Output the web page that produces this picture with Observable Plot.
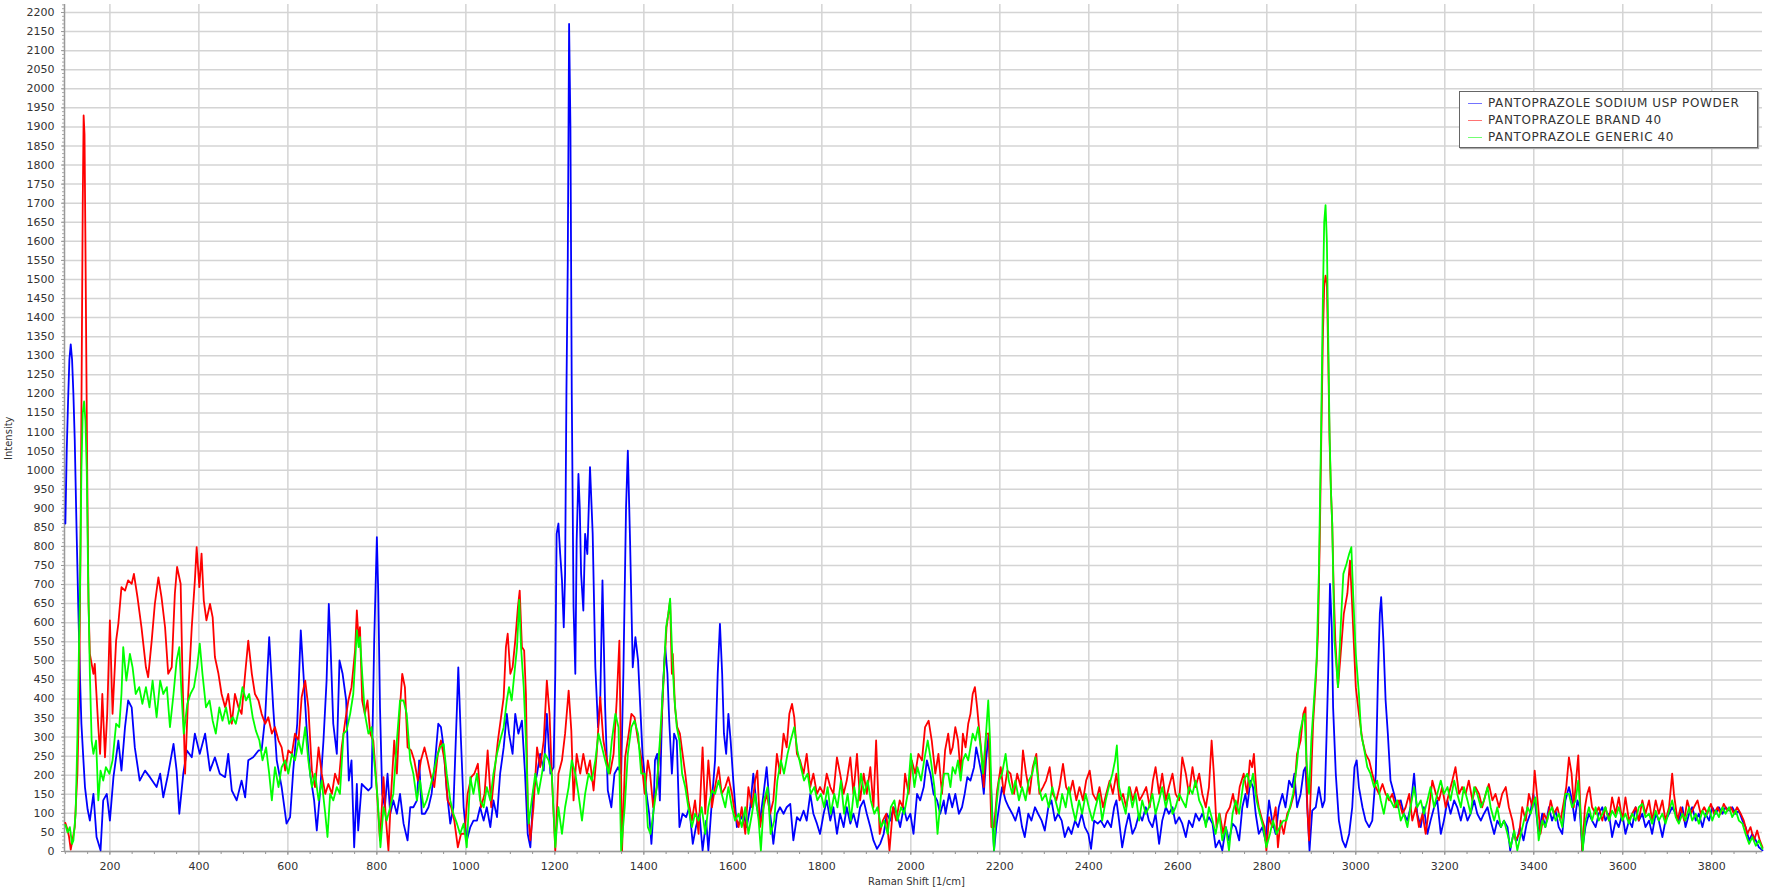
<!DOCTYPE html>
<html><head><meta charset="utf-8">
<script src="https://cdn.jsdelivr.net/npm/d3@7"></script>
<script src="https://cdn.jsdelivr.net/npm/@observablehq/plot@0.6"></script>
<style>
body{margin:0;background:#fff;}
#wrap{position:relative;width:1767px;height:893px;overflow:hidden;}
#legend{position:absolute;left:1459px;top:91px;width:299px;height:57px;border:1px solid #666;background:#fff;box-shadow:1px 1px 1px #aaa;box-sizing:border-box;font:12px "DejaVu Sans",sans-serif;letter-spacing:0.6px;color:#333;}
#legend .row{position:absolute;left:0;height:14px;line-height:14px;white-space:nowrap;}
#legend .sw{position:absolute;left:8px;top:7px;width:14px;height:0;border-top:1.5px solid;opacity:.55}
#legend .lb{position:absolute;left:28px;top:0}
</style></head>
<body><div id="wrap"><div id="legend"></div></div>
<script>
const seriesNames = ["PANTOPRAZOLE SODIUM USP POWDER", "PANTOPRAZOLE BRAND 40", "PANTOPRAZOLE GENERIC 40"];
const seriesColors = ["#0000ff", "#ff0000", "#00ff00"];
const xTicks = [200,400,600,800,1000,1200,1400,1600,1800,2000,2200,2400,2600,2800,3000,3200,3400,3600,3800];
const yTicks = d3.range(0, 2201, 50);

const usp = [[100,860],[103,1050],[106,1180],[109,1290],[112,1330],[115,1290],[118,1200],[121,1080],[125,850],[129,640],[133,450],[136,335],[140,250],[144,169],[150,110],[155,81],[163,151],[170,38],[179,3],[185,134],[193,151],[200,81],[208,195],[219,291],[226,212],[234,326],[241,396],[249,378],[256,273],[267,186],[279,212],[290,195],[305,169],[313,204],[320,142],[331,204],[343,282],[350,212],[356,99],[365,204],[373,265],[384,247],[391,309],[402,256],[414,309],[425,212],[436,247],[447,204],[459,195],[466,256],[474,160],[485,134],[496,186],[504,142],[511,239],[522,247],[534,265],[541,265],[549,352],[558,562],[567,378],[575,239],[586,169],[597,73],[605,90],[612,212],[621,335],[629,580],[635,466],[642,326],[650,204],[659,134],[665,55],[672,151],[680,291],[687,448],[692,649],[696,536],[702,335],[710,256],[716,501],[723,466],[731,396],[737,186],[743,239],[749,11],[755,177],[758,55],[766,177],[773,169],[781,160],[788,169],[794,553],[800,824],[803,684],[807,378],[812,151],[818,116],[824,204],[830,99],[837,134],[845,99],[852,151],[860,73],[869,29],[875,116],[882,116],[890,134],[895,239],[901,99],[908,99],[916,116],[923,151],[931,239],[938,335],[944,326],[950,273],[957,160],[965,73],[972,116],[980,378],[983,483],[989,291],[995,116],[1002,29],[1010,64],[1017,81],[1025,81],[1032,116],[1040,81],[1047,116],[1055,64],[1062,134],[1070,90],[1077,204],[1085,273],[1092,361],[1097,309],[1105,256],[1111,361],[1118,309],[1126,343],[1133,204],[1139,46],[1145,11],[1152,160],[1160,204],[1167,256],[1175,212],[1182,361],[1190,204],[1197,221],[1201,466],[1204,833],[1208,860],[1212,780],[1216,711],[1220,588],[1223,728],[1226,1200],[1229,1540],[1232,2170],[1235,1900],[1238,1200],[1242,641],[1246,466],[1249,815],[1253,990],[1256,900],[1259,728],[1264,632],[1268,833],[1273,780],[1279,1008],[1285,833],[1291,483],[1297,326],[1302,396],[1307,711],[1313,378],[1319,160],[1327,116],[1334,204],[1342,221],[1349,204],[1354,466],[1360,903],[1364,1051],[1369,815],[1375,483],[1381,562],[1387,501],[1392,378],[1397,256],[1405,160],[1412,99],[1417,20],[1422,116],[1425,239],[1430,256],[1436,134],[1442,413],[1448,536],[1453,466],[1457,343],[1463,204],[1468,309],[1474,291],[1480,64],[1487,99],[1495,90],[1502,116],[1510,20],[1517,64],[1525,99],[1532,3],[1540,81],[1545,3],[1553,134],[1560,239],[1566,466],[1571,597],[1576,466],[1580,309],[1585,256],[1590,361],[1595,291],[1601,186],[1609,64],[1616,81],[1624,99],[1631,64],[1639,116],[1646,204],[1654,116],[1661,81],[1669,151],[1676,221],[1684,99],[1691,20],[1699,99],[1706,116],[1714,99],[1721,116],[1729,125],[1736,29],[1744,90],[1751,81],[1759,107],[1766,81],[1774,151],[1781,99],[1789,73],[1796,46],[1804,99],[1811,134],[1819,81],[1826,116],[1834,46],[1841,99],[1849,64],[1856,116],[1864,73],[1871,99],[1879,64],[1886,116],[1894,134],[1901,99],[1909,64],[1916,29],[1924,7],[1931,20],[1939,46],[1946,99],[1954,81],[1961,116],[1969,99],[1976,64],[1984,116],[1991,81],[1999,99],[2006,46],[2014,151],[2021,134],[2029,169],[2036,239],[2044,204],[2051,151],[2059,134],[2066,99],[2074,134],[2078,99],[2086,151],[2093,116],[2100,151],[2108,99],[2115,116],[2121,151],[2127,195],[2134,186],[2142,221],[2147,273],[2153,239],[2159,204],[2164,151],[2169,239],[2175,309],[2181,151],[2187,3],[2192,64],[2198,116],[2205,169],[2213,134],[2220,116],[2228,99],[2235,81],[2243,116],[2250,64],[2256,38],[2264,99],[2271,81],[2279,116],[2286,99],[2294,81],[2301,55],[2309,116],[2316,134],[2324,81],[2331,99],[2339,81],[2346,38],[2354,64],[2361,46],[2369,81],[2376,64],[2384,99],[2391,64],[2399,46],[2405,7],[2412,81],[2420,73],[2427,81],[2435,64],[2442,81],[2450,64],[2457,116],[2462,134],[2468,81],[2475,11],[2483,64],[2490,99],[2498,46],[2505,64],[2513,99],[2520,81],[2528,116],[2535,81],[2543,64],[2550,99],[2558,20],[2565,81],[2573,116],[2580,99],[2588,116],[2595,73],[2603,90],[2610,73],[2618,38],[2625,81],[2633,64],[2640,99],[2648,81],[2655,99],[2663,73],[2670,90],[2678,73],[2685,11],[2693,29],[2700,3],[2708,64],[2715,29],[2723,73],[2730,64],[2738,29],[2745,116],[2752,151],[2756,116],[2763,186],[2769,169],[2775,99],[2782,46],[2790,64],[2797,29],[2805,134],[2812,81],[2820,46],[2827,116],[2835,151],[2842,116],[2850,186],[2857,169],[2862,204],[2868,116],[2876,151],[2883,212],[2887,221],[2891,116],[2896,3],[2902,107],[2910,116],[2917,169],[2925,116],[2930,134],[2934,291],[2938,466],[2942,702],[2946,588],[2949,378],[2955,204],[2962,81],[2970,29],[2977,11],[2985,46],[2992,116],[2997,221],[3002,239],[3007,169],[3015,116],[3022,81],[3030,64],[3037,81],[3045,204],[3050,466],[3054,623],[3057,667],[3062,553],[3067,396],[3072,309],[3078,186],[3086,151],[3093,116],[3101,134],[3108,99],[3116,81],[3123,116],[3131,204],[3138,99],[3146,64],[3153,116],[3161,46],[3168,81],[3176,116],[3183,134],[3191,46],[3198,81],[3206,134],[3213,99],[3221,134],[3228,116],[3236,81],[3243,116],[3251,81],[3258,99],[3266,134],[3273,99],[3281,81],[3288,99],[3296,116],[3303,81],[3311,46],[3318,81],[3326,64],[3333,81],[3341,64],[3347,3],[3354,46],[3362,29],[3369,64],[3377,29],[3384,73],[3392,99],[3399,151],[3404,116],[3411,46],[3419,99],[3426,64],[3434,116],[3441,81],[3449,107],[3456,64],[3464,46],[3471,134],[3479,169],[3486,134],[3492,81],[3498,134],[3503,116],[3509,3],[3516,64],[3524,99],[3531,81],[3539,64],[3546,99],[3554,116],[3561,81],[3569,99],[3576,38],[3584,81],[3591,64],[3599,99],[3606,46],[3614,81],[3621,64],[3629,116],[3636,81],[3644,99],[3651,64],[3659,81],[3666,46],[3674,99],[3681,81],[3689,38],[3696,81],[3704,99],[3711,116],[3719,99],[3726,81],[3734,116],[3741,64],[3749,99],[3756,116],[3764,81],[3771,99],[3779,64],[3786,99],[3794,81],[3801,116],[3809,99],[3816,116],[3824,99],[3831,116],[3839,107],[3846,116],[3854,99],[3861,107],[3869,81],[3876,64],[3884,29],[3891,46],[3899,29],[3906,11],[3914,3]];

const brand = [[100,75],[104,60],[108,40],[112,5],[116,30],[121,64],[127,204],[131,420],[134,800],[136,1150],[139,1700],[141,1930],[143,1880],[145,1600],[147,1300],[149,1000],[152,650],[155,518],[163,466],[166,492],[174,326],[178,256],[183,413],[189,247],[194,361],[200,606],[206,361],[214,553],[219,597],[226,693],[234,684],[241,711],[249,702],[254,728],[262,667],[271,588],[281,483],[286,457],[294,553],[301,649],[309,719],[316,667],[324,588],[331,466],[339,483],[346,676],[351,746],[359,702],[363,466],[369,204],[376,413],[384,588],[391,711],[395,798],[401,693],[406,781],[411,658],[417,606],[425,649],[431,614],[436,510],[444,466],[451,413],[459,378],[466,413],[474,335],[481,413],[489,378],[496,361],[504,466],[511,553],[519,466],[526,413],[534,396],[541,361],[549,335],[556,352],[564,309],[571,326],[579,291],[586,273],[594,212],[601,265],[609,256],[616,309],[624,291],[631,405],[639,448],[646,378],[654,212],[661,169],[669,273],[676,204],[684,151],[691,177],[699,151],[706,204],[714,177],[721,273],[729,343],[736,396],[743,431],[751,527],[755,632],[759,553],[762,588],[767,396],[773,361],[779,396],[785,309],[792,291],[800,160],[807,29],[815,195],[820,90],[826,3],[832,151],[839,291],[845,204],[852,378],[857,466],[863,431],[869,273],[877,265],[884,239],[892,186],[899,239],[907,273],[914,239],[922,195],[929,169],[937,256],[944,291],[952,239],[959,134],[967,116],[974,81],[982,11],[989,46],[997,46],[1004,151],[1012,195],[1019,204],[1027,230],[1034,116],[1042,151],[1049,265],[1057,116],[1064,204],[1072,291],[1079,352],[1085,405],[1090,536],[1094,571],[1100,466],[1105,483],[1111,553],[1117,641],[1121,684],[1126,536],[1131,527],[1135,413],[1139,116],[1145,29],[1152,116],[1160,273],[1167,221],[1175,291],[1182,448],[1188,361],[1193,204],[1201,3],[1208,204],[1216,239],[1223,309],[1231,422],[1237,317],[1242,134],[1249,256],[1257,204],[1264,256],[1272,204],[1279,239],[1287,160],[1294,256],[1302,405],[1309,291],[1317,239],[1324,204],[1332,256],[1339,396],[1345,553],[1351,3],[1358,247],[1366,309],[1372,361],[1379,352],[1387,291],[1394,247],[1402,151],[1409,239],[1414,204],[1421,116],[1429,169],[1435,256],[1440,343],[1445,466],[1451,588],[1455,623],[1459,658],[1463,466],[1465,518],[1470,378],[1475,326],[1481,309],[1487,256],[1493,204],[1500,134],[1508,81],[1515,134],[1523,46],[1528,169],[1532,273],[1538,99],[1545,239],[1553,116],[1560,169],[1568,221],[1575,151],[1583,169],[1590,195],[1598,151],[1605,99],[1613,64],[1620,116],[1628,46],[1635,169],[1643,116],[1650,186],[1655,212],[1661,64],[1669,116],[1676,151],[1684,99],[1691,134],[1699,256],[1706,204],[1714,309],[1721,273],[1727,361],[1733,387],[1738,352],[1744,256],[1751,239],[1759,204],[1766,256],[1774,169],[1781,204],[1789,151],[1796,169],[1804,151],[1811,204],[1819,169],[1826,151],[1834,247],[1841,204],[1849,151],[1856,186],[1864,247],[1871,151],[1879,256],[1886,134],[1894,204],[1901,151],[1909,221],[1916,116],[1922,291],[1930,46],[1937,81],[1945,99],[1952,3],[1960,116],[1967,81],[1975,134],[1982,116],[1987,204],[1995,151],[2002,239],[2010,204],[2017,256],[2025,239],[2032,326],[2040,343],[2047,291],[2055,204],[2062,256],[2070,151],[2077,265],[2084,309],[2089,256],[2094,273],[2100,326],[2106,291],[2112,204],[2117,309],[2123,273],[2129,335],[2134,361],[2139,413],[2144,431],[2149,378],[2153,326],[2159,256],[2164,169],[2169,309],[2175,309],[2181,64],[2187,64],[2194,160],[2202,221],[2209,151],[2217,212],[2224,204],[2232,151],[2239,204],[2247,169],[2252,265],[2259,204],[2267,151],[2274,221],[2282,256],[2289,151],[2297,169],[2304,186],[2312,221],[2319,151],[2327,134],[2334,169],[2342,230],[2349,169],[2357,151],[2364,186],[2372,134],[2379,169],[2387,134],[2394,186],[2402,212],[2409,151],[2417,134],[2424,169],[2432,116],[2439,151],[2447,186],[2454,151],[2462,204],[2469,134],[2477,151],[2484,116],[2492,169],[2499,134],[2507,169],[2514,134],[2522,151],[2529,169],[2537,116],[2544,186],[2550,221],[2558,151],[2565,204],[2573,134],[2580,169],[2588,204],[2595,151],[2603,134],[2610,247],[2618,204],[2625,151],[2633,221],[2640,169],[2648,204],[2655,151],[2663,116],[2670,169],[2676,291],[2681,204],[2687,64],[2694,99],[2702,46],[2709,99],[2717,116],[2724,151],[2732,99],[2739,169],[2748,204],[2756,151],[2762,239],[2767,221],[2771,256],[2777,151],[2782,116],[2790,81],[2795,64],[2799,3],[2805,90],[2812,64],[2820,116],[2825,11],[2831,81],[2838,46],[2846,99],[2853,116],[2861,151],[2868,256],[2876,291],[2882,361],[2887,378],[2891,116],[2895,29],[2900,204],[2904,335],[2910,448],[2915,571],[2919,815],[2922,1050],[2926,1350],[2929,1480],[2932,1510],[2935,1490],[2938,1300],[2941,1080],[2944,950],[2947,860],[2950,700],[2954,553],[2960,431],[2966,518],[2973,623],[2981,676],[2987,763],[2991,667],[2996,536],[3000,431],[3007,361],[3015,291],[3022,256],[3030,239],[3037,204],[3045,169],[3052,151],[3060,177],[3067,151],[3075,134],[3082,151],[3090,116],[3097,134],[3105,99],[3112,116],[3120,151],[3127,81],[3135,116],[3142,64],[3150,99],[3157,46],[3165,116],[3172,186],[3180,151],[3187,134],[3194,169],[3202,116],[3209,151],[3217,186],[3224,221],[3232,151],[3239,169],[3247,151],[3254,186],[3262,134],[3269,169],[3277,151],[3284,116],[3292,151],[3299,177],[3307,134],[3314,151],[3322,116],[3329,151],[3337,169],[3344,116],[3352,81],[3359,29],[3367,46],[3374,116],[3382,81],[3389,151],[3397,116],[3402,212],[3410,116],[3415,46],[3423,99],[3430,81],[3438,134],[3445,99],[3453,116],[3460,81],[3468,134],[3473,169],[3479,247],[3485,204],[3490,116],[3495,186],[3500,252],[3504,134],[3509,3],[3515,116],[3520,151],[3525,169],[3531,116],[3539,99],[3546,116],[3554,81],[3561,116],[3569,81],[3576,142],[3584,99],[3591,142],[3599,81],[3606,142],[3614,81],[3621,99],[3629,116],[3636,81],[3644,134],[3651,99],[3659,134],[3666,81],[3674,134],[3681,99],[3689,134],[3696,81],[3704,116],[3711,204],[3715,151],[3723,81],[3730,116],[3738,81],[3745,134],[3753,99],[3760,116],[3768,134],[3775,99],[3783,116],[3790,99],[3798,125],[3805,99],[3813,116],[3820,99],[3827,125],[3835,107],[3843,116],[3850,99],[3857,116],[3865,99],[3872,81],[3880,46],[3887,64],[3895,29],[3902,55],[3908,29],[3914,11]];

const generic = [[100,70],[105,50],[110,64],[115,20],[118,29],[123,100],[127,300],[130,500],[133,700],[136,1000],[139,1150],[142,1180],[145,1130],[148,1000],[151,728],[155,466],[159,291],[163,256],[169,291],[174,134],[179,212],[185,186],[191,221],[199,204],[206,239],[214,335],[221,326],[226,413],[230,536],[237,448],[245,518],[251,483],[258,413],[266,431],[273,387],[281,431],[289,378],[296,448],[305,352],[313,448],[320,413],[328,431],[335,326],[343,413],[350,501],[356,536],[361,413],[366,309],[374,387],[381,413],[389,431],[396,483],[402,545],[408,466],[416,378],[424,396],[431,343],[438,309],[446,378],[453,343],[461,378],[468,335],[476,352],[483,335],[491,378],[498,431],[506,396],[513,413],[521,352],[528,317],[536,291],[543,239],[551,273],[558,204],[564,134],[571,221],[579,169],[586,221],[594,239],[601,204],[609,256],[616,239],[624,291],[631,256],[639,326],[646,239],[654,169],[661,204],[669,134],[676,186],[684,99],[689,38],[695,151],[702,134],[710,169],[717,151],[725,309],[732,317],[740,361],[747,413],[755,580],[759,536],[762,562],[767,466],[773,361],[781,309],[788,326],[794,239],[802,134],[808,11],[815,116],[822,81],[830,116],[837,151],[845,291],[852,396],[860,396],[867,361],[875,239],[882,204],[890,134],[897,186],[905,116],[912,134],[920,169],[927,204],[935,247],[942,273],[950,282],[957,204],[965,134],[972,99],[980,73],[987,46],[995,73],[1002,11],[1010,195],[1017,151],[1025,204],[1032,134],[1040,116],[1047,169],[1055,134],[1062,204],[1070,256],[1077,291],[1085,326],[1092,396],[1097,431],[1103,396],[1109,466],[1115,536],[1120,660],[1124,536],[1130,431],[1135,291],[1141,73],[1148,134],[1156,204],[1163,151],[1171,204],[1178,256],[1186,239],[1193,204],[1201,11],[1208,116],[1216,46],[1223,116],[1231,169],[1238,239],[1246,204],[1253,151],[1261,81],[1268,151],[1276,204],[1283,186],[1291,239],[1298,309],[1306,273],[1313,239],[1321,204],[1328,291],[1336,361],[1343,326],[1349,3],[1357,116],[1364,256],[1372,326],[1379,343],[1387,309],[1394,204],[1402,204],[1409,64],[1415,46],[1421,99],[1429,169],[1436,291],[1444,448],[1450,588],[1455,623],[1459,663],[1463,536],[1468,413],[1474,326],[1480,291],[1486,204],[1493,169],[1500,116],[1508,64],[1515,99],[1523,81],[1530,116],[1538,46],[1545,116],[1553,160],[1560,151],[1568,186],[1575,151],[1583,116],[1590,169],[1598,116],[1605,81],[1613,99],[1620,64],[1628,116],[1635,46],[1643,99],[1650,151],[1658,81],[1663,3],[1670,134],[1678,169],[1685,46],[1693,81],[1700,186],[1708,239],[1715,204],[1723,256],[1730,291],[1738,326],[1745,265],[1753,221],[1760,186],[1768,204],[1775,151],[1783,169],[1790,134],[1798,151],[1805,116],[1813,169],[1820,99],[1828,151],[1835,116],[1843,186],[1850,99],[1858,151],[1865,81],[1873,169],[1880,116],[1888,204],[1895,151],[1903,186],[1910,134],[1918,99],[1925,116],[1933,64],[1940,81],[1948,46],[1955,116],[1963,134],[1970,81],[1978,116],[1985,99],[1993,151],[2000,256],[2008,169],[2015,221],[2023,186],[2030,239],[2038,291],[2045,239],[2053,169],[2060,46],[2068,151],[2075,204],[2084,204],[2089,169],[2094,221],[2100,204],[2106,239],[2112,186],[2117,239],[2123,256],[2129,239],[2134,273],[2139,309],[2145,291],[2151,326],[2157,273],[2162,204],[2168,291],[2174,396],[2178,291],[2183,73],[2187,3],[2192,116],[2198,186],[2205,204],[2213,256],[2220,186],[2228,151],[2235,186],[2243,134],[2250,169],[2258,134],[2265,186],[2273,204],[2280,247],[2288,169],[2295,134],[2303,151],[2310,116],[2318,169],[2325,134],[2333,99],[2340,151],[2348,116],[2355,169],[2363,116],[2370,81],[2378,134],[2385,99],[2393,151],[2400,116],[2408,81],[2415,116],[2423,151],[2430,81],[2438,134],[2445,169],[2453,204],[2459,239],[2463,278],[2468,169],[2475,134],[2483,99],[2490,169],[2498,116],[2505,151],[2513,81],[2520,134],[2528,99],[2535,116],[2543,151],[2550,99],[2558,134],[2565,169],[2573,116],[2580,151],[2588,99],[2595,116],[2603,151],[2610,134],[2618,116],[2625,169],[2633,151],[2640,186],[2648,134],[2655,116],[2663,64],[2670,116],[2678,81],[2685,46],[2693,99],[2700,29],[2708,64],[2715,3],[2723,99],[2730,134],[2738,99],[2748,186],[2756,204],[2763,169],[2769,204],[2777,134],[2784,99],[2792,64],[2799,11],[2807,46],[2814,81],[2822,46],[2829,64],[2837,81],[2844,81],[2852,116],[2859,151],[2867,221],[2874,309],[2880,343],[2885,361],[2889,239],[2895,151],[2900,291],[2906,396],[2912,501],[2917,728],[2922,1100],[2926,1450],[2929,1650],[2932,1695],[2935,1600],[2938,1350],[2941,1100],[2944,950],[2947,859],[2952,553],[2960,431],[2966,588],[2972,728],[2979,754],[2985,780],[2990,798],[2994,676],[3000,518],[3007,413],[3012,309],[3018,273],[3026,221],[3033,204],[3041,169],[3048,186],[3056,134],[3063,99],[3071,151],[3078,134],[3086,116],[3093,134],[3101,81],[3108,99],[3116,64],[3123,116],[3131,169],[3138,116],[3146,134],[3153,99],[3161,134],[3168,169],[3176,116],[3183,151],[3191,186],[3198,151],[3206,169],[3213,134],[3221,186],[3228,151],[3236,116],[3243,169],[3251,134],[3258,99],[3266,169],[3273,151],[3281,116],[3288,134],[3296,169],[3303,116],[3311,81],[3318,116],[3326,64],[3333,81],[3341,46],[3348,11],[3356,55],[3363,3],[3371,46],[3378,81],[3386,116],[3393,99],[3401,134],[3404,142],[3411,29],[3419,81],[3426,64],[3434,99],[3441,116],[3449,81],[3456,99],[3464,64],[3471,151],[3479,151],[3486,116],[3494,134],[3500,186],[3505,99],[3510,3],[3516,81],[3524,116],[3531,81],[3539,116],[3546,81],[3554,99],[3561,116],[3569,81],[3576,107],[3584,90],[3591,116],[3599,81],[3606,99],[3614,73],[3621,99],[3629,81],[3636,116],[3644,125],[3651,90],[3659,99],[3666,73],[3674,107],[3681,81],[3689,99],[3696,73],[3704,107],[3711,134],[3719,90],[3726,73],[3734,99],[3741,81],[3749,116],[3756,81],[3764,99],[3771,73],[3779,107],[3786,90],[3794,116],[3801,81],[3809,107],[3816,90],[3824,116],[3831,99],[3839,116],[3846,90],[3854,107],[3861,81],[3869,73],[3876,46],[3884,20],[3891,38],[3899,15],[3906,29],[3914,7]];

const seriesData = [usp, brand, generic];
const toRows = (arr) => arr.map(([x, y]) => ({x, y}));
const fmt = d3.format("d");

const chart = Plot.plot({
  width: 1767, height: 893,
  marginLeft: 64, marginRight: 5, marginTop: 4, marginBottom: 42,
  style: {fontFamily: "DejaVu Sans, sans-serif", fontSize: "11px", color: "#333", background: "#fff"},
  x: {domain: [98, 3914], label: null},
  y: {domain: [0, 2221], label: null},
  marks: [
    Plot.gridX(xTicks, {stroke: "#d4d4d4", strokeOpacity: 1, strokeWidth: 1.5}),
    Plot.gridY(yTicks, {stroke: "#d4d4d4", strokeOpacity: 1, strokeWidth: 1.5}),
    Plot.axisX(d3.range(100, 3901, 50), {tickSize: 3, tickFormat: () => "", stroke: "#999", label: null}),
    Plot.axisX(xTicks, {tickSize: 4, tickPadding: 7, tickFormat: fmt, stroke: "#999", fill: "#333", label: null}),
    Plot.axisY(d3.range(0, 2221, 10), {tickSize: 2, tickFormat: () => "", stroke: "#aaa", label: null}),
    Plot.axisY(yTicks, {tickSize: 3, tickPadding: 7, tickFormat: fmt, stroke: "#999", fill: "#333", label: null}),
    Plot.ruleX([98], {stroke: "#999", strokeWidth: 1.5}),
    Plot.ruleY([0], {stroke: "#999", strokeWidth: 1.5}),
    ...seriesData.map((arr, i) => Plot.line(toRows(arr), {x: "x", y: "y", stroke: seriesColors[i], strokeWidth: 1.8})),
    Plot.text(["Raman Shift [1/cm]"], {text: d => d, frameAnchor: "bottom", dy: 33, dx: 3, fontSize: 10, fill: "#333"}),
    Plot.text(["Intensity"], {text: d => d, frameAnchor: "left", dx: -56, dy: 32, rotate: -90, fontSize: 10, fill: "#333"})
  ]
});
const wrap = document.getElementById("wrap");
wrap.insertBefore(chart, wrap.firstChild);
const legend = document.getElementById("legend");
seriesNames.forEach((name, i) => {
  const row = document.createElement("div");
  row.className = "row";
  row.style.top = (4 + i * 17) + "px";
  row.innerHTML = `<span class="sw" style="border-color:${seriesColors[i]}"></span><span class="lb">${name}</span>`;
  legend.appendChild(row);
});
</script></body></html>
